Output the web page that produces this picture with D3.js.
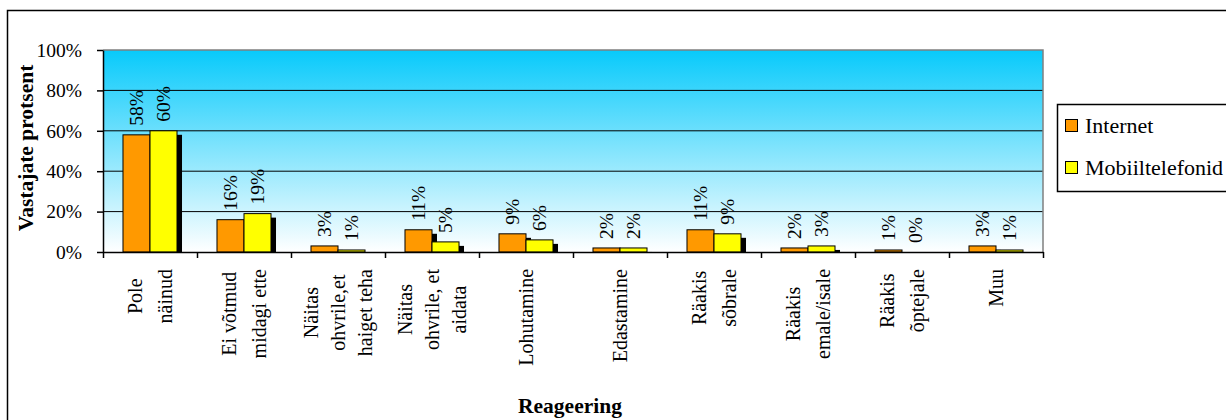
<!DOCTYPE html>
<html>
<head>
<meta charset="utf-8">
<script src="https://cdn.jsdelivr.net/npm/d3@7"></script>
<style>
  body { margin: 0; background: #fff; }
  svg { display: block; }
  svg text { font-family: "Liberation Serif", "Times New Roman", Times, serif; fill: #000; }
</style>
</head>
<body>
<svg id="chart" width="1226" height="420"></svg>
<script>
// categories (each entry is the lines of the wrapped label)
var categories = [
    ["Pole", "näinud"],
    ["Ei võtmud", "midagi ette"],
    ["Näitas", "ohvrile,et", "haiget teha"],
    ["Näitas", "ohvrile, et", "aidata"],
    ["Lohutamine"],
    ["Edastamine"],
    ["Räakis", "sõbrale"],
    ["Räakis", "emale/isale"],
    ["Räakis", "õptejale"],
    ["Muu"]
];
var seriesNames = ["Internet", "Mobiiltelefonid"];
var internet = [0.58, 0.16, 0.03, 0.11, 0.09, 0.02, 0.11, 0.02, 0.01, 0.03];
var mobiil = [0.60, 0.19, 0.01, 0.05, 0.06, 0.02, 0.09, 0.03, 0.00, 0.01];
var yTicks = [0, 0.2, 0.4, 0.6, 0.8, 1];
var colors = ["#FF9900", "#FFFF00"];

var allSeries = [internet, mobiil];
var serif = '"Liberation Serif", "Times New Roman", Times, serif';

var svg = d3.select('#chart');
var plotL = 103, plotR = 1043, plotT = 50, plotB = 252;

// outer chart border
svg.append('rect')
    .attr('x', 7.5).attr('y', 10.5)
    .attr('width', 1400).attr('height', 600)
    .attr('fill', 'none').attr('stroke', '#000').attr('stroke-width', 1.5);

// background gradient
var grad = svg.append('defs').append('linearGradient')
    .attr('id', 'bg').attr('x1', 0).attr('y1', 0).attr('x2', 0).attr('y2', 1);
grad.append('stop').attr('offset', '0%').attr('stop-color', '#08CAFB');
grad.append('stop').attr('offset', '100%').attr('stop-color', '#FFFFFF');

svg.append('rect')
    .attr('x', plotL).attr('y', plotT)
    .attr('width', plotR - plotL).attr('height', plotB - plotT)
    .attr('fill', 'url(#bg)');

var x0 = d3.scaleBand()
    .domain(d3.range(categories.length))
    .range([plotL, plotR])
    .padding(0);

var x1 = d3.scaleBand()
    .domain(d3.range(seriesNames.length))
    .range([0, x0.bandwidth()])
    .paddingInner(0)
    .paddingOuter(0.74);

var y = d3.scaleLinear().domain([0, 1]).range([plotB, plotT]);

// grid lines
svg.append('g').selectAll('line')
    .data(yTicks.filter(function(d) { return d > 0 && d < 1; }))
    .enter().append('line')
    .attr('x1', plotL).attr('x2', plotR)
    .attr('y1', function(d) { return y(d); })
    .attr('y2', function(d) { return y(d); })
    .attr('stroke', '#000').attr('stroke-width', 1);

// plot border top/right (grey)
svg.append('path')
    .attr('d', 'M' + plotL + ',' + plotT + 'H' + plotR + 'V' + plotB)
    .attr('fill', 'none').attr('stroke', '#808080').attr('stroke-width', 1.5);

// shadows then bars
var shadowDx = 5, shadowDy = 4;
allSeries.forEach(function(vals, s) {
    svg.append('g').selectAll('rect')
        .data(vals)
        .enter().append('rect')
        .attr('x', function(d, i) { return x0(i) + x1(s) + shadowDx; })
        .attr('y', function(d) { return y(d) + shadowDy; })
        .attr('width', x1.bandwidth())
        .attr('height', function(d) { return Math.max(0, plotB - y(d) - shadowDy); })
        .attr('fill', '#000');
});
allSeries.forEach(function(vals, s) {
    svg.append('g').selectAll('rect')
        .data(vals)
        .enter().append('rect')
        .attr('x', function(d, i) { return x0(i) + x1(s); })
        .attr('y', function(d) { return y(d); })
        .attr('width', x1.bandwidth())
        .attr('height', function(d) { return plotB - y(d); })
        .attr('fill', colors[s])
        .attr('stroke', '#000').attr('stroke-width', 1);
});

// data labels
var fmt = d3.format('.0%');
allSeries.forEach(function(vals, s) {
    svg.append('g').selectAll('text')
        .data(vals)
        .enter().append('text')
        .attr('transform', function(d, i) {
            var cx = x0(i) + x1(s) + x1.bandwidth() / 2;
            return 'translate(' + cx + ',' + (y(d) - 9) + ') rotate(-90)';
        })
        .attr('dy', '0.35em')
        .attr('text-anchor', 'start')
        .style('font-family', serif)
        .style('font-size', '19.5px')
        .text(function(d) { return fmt(d); });
});

// y axis
var yAxis = d3.axisLeft(y)
    .tickValues(yTicks)
    .tickFormat(d3.format('.0%'))
    .tickSize(6)
    .tickSizeOuter(0)
    .tickPadding(15);
var yg = svg.append('g').attr('transform', 'translate(' + plotL + ',0)').call(yAxis);
yg.attr('font-family', null).attr('font-size', null);
yg.selectAll('text').style('font-size', '19.5px').style('font-family', serif).attr('fill', '#000');
yg.selectAll('line, path').attr('stroke', '#000').attr('stroke-width', 1.5);

// x axis with ticks between categories
var xb = d3.scaleLinear().domain([0, categories.length]).range([plotL, plotR]);
var xAxis = d3.axisBottom(xb)
    .tickValues(d3.range(categories.length + 1))
    .tickFormat('')
    .tickSize(6)
    .tickSizeOuter(0);
var xg = svg.append('g').attr('transform', 'translate(0,' + plotB + ')').call(xAxis);
xg.selectAll('line, path').attr('stroke', '#000').attr('stroke-width', 1.5);

// category labels, rotated, lines centred, block aligned to the top
categories.forEach(function(lines, i) {
    var cx = x0(i) + x0.bandwidth() / 2;
    var gap = lines.length === 3 ? 27 : 30;
    var g = svg.append('g');
    var texts = lines.map(function(t) {
        return g.append('text')
            .attr('text-anchor', 'middle')
            .attr('dy', '0.35em')
            .style('font-family', serif)
            .style('font-size', '20px')
            .text(t);
    });
    var maxLen = d3.max(texts, function(t) { return t.node().getComputedTextLength(); });
    var cy = 269 + maxLen / 2;
    texts.forEach(function(t, k) {
        var lx = cx + (k - (lines.length - 1) / 2) * gap;
        t.attr('transform', 'translate(' + lx + ',' + cy + ') rotate(-90)');
    });
});

// axis titles
svg.append('text')
    .attr('transform', 'translate(33,' + ((plotT + plotB) / 2 - 3) + ') rotate(-90)')
    .attr('text-anchor', 'middle')
    .style('font-family', serif)
    .style('font-size', '21.5px')
    .style('font-weight', 'bold')
    .text('Vastajate protsent');

svg.append('text')
    .attr('x', (plotL + plotR) / 2 - 3)
    .attr('y', 413)
    .attr('text-anchor', 'middle')
    .style('font-family', serif)
    .style('font-size', '21.5px')
    .style('font-weight', 'bold')
    .text('Reageering');

// legend
var lg = svg.append('g');
lg.append('rect')
    .attr('x', 1057.5).attr('y', 104.5)
    .attr('width', 200).attr('height', 87)
    .attr('fill', '#fff').attr('stroke', '#000').attr('stroke-width', 1.5);
seriesNames.forEach(function(name, s) {
    var cy = 126 + s * 42;
    lg.append('rect')
        .attr('x', 1065.5).attr('y', cy - 6.5)
        .attr('width', 12).attr('height', 12)
        .attr('fill', colors[s]).attr('stroke', '#000').attr('stroke-width', 1);
    lg.append('text')
        .attr('x', 1085).attr('y', cy + 7)
        .style('font-family', serif)
        .style('font-size', '22px')
        .text(name);
});
</script>
</body>
</html>
